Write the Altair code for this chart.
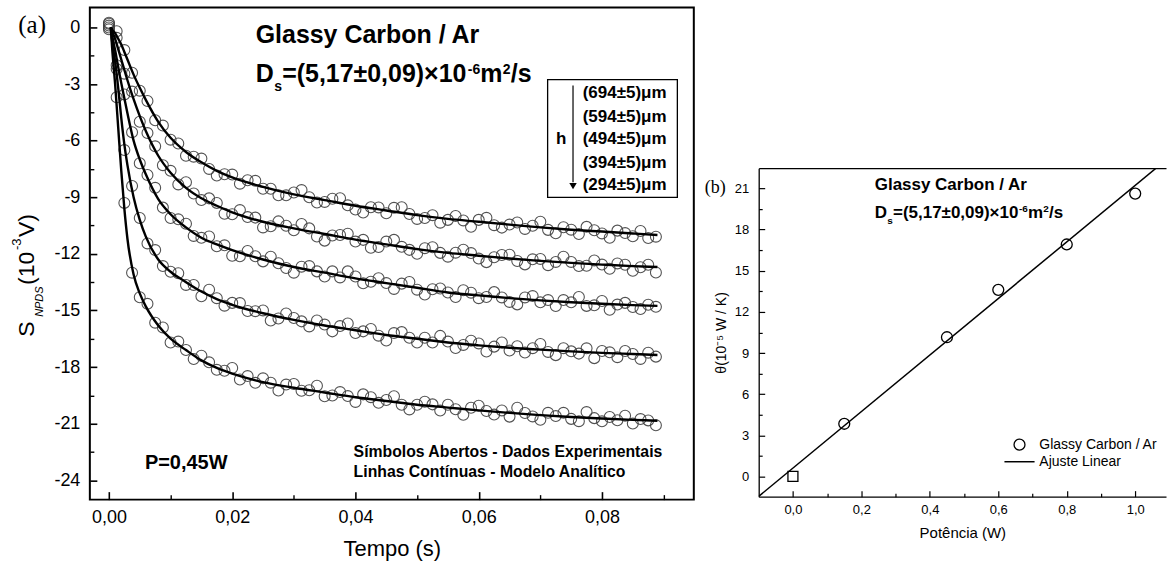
import altair as alt
import pandas as pd

FONT = "Liberation Sans"
SERIF = "Liberation Serif"

# ---------------- panel (a): NPDS signal vs time ----------------
heights = ["694", "594", "494", "394", "294"]
height_labels = ["(694±5)μm", "(594±5)μm", "(494±5)μm", "(394±5)μm", "(294±5)μm"]

t_data = [0.0, 0.00125, 0.0025, 0.00375, 0.005, 0.00625, 0.0075, 0.00875, 0.01, 0.01125,
          0.0125, 0.01375, 0.015, 0.01625, 0.0175, 0.01875, 0.02, 0.02125, 0.0225, 0.02375,
          0.025, 0.02625, 0.0275, 0.02875, 0.03, 0.03125, 0.0325, 0.03375, 0.035, 0.03625,
          0.0375, 0.03875, 0.04, 0.04125, 0.0425, 0.04375, 0.045, 0.04625, 0.0475, 0.04875,
          0.05, 0.05125, 0.0525, 0.05375, 0.055, 0.05625, 0.0575, 0.05875, 0.06, 0.06125,
          0.0625, 0.06375, 0.065, 0.06625, 0.0675, 0.06875, 0.07, 0.07125, 0.0725, 0.07375,
          0.075, 0.07625, 0.0775, 0.07875, 0.08, 0.08125, 0.0825, 0.08375, 0.085, 0.08625,
          0.0875, 0.08875]

s_694 = [0.25, -0.2, -1.2, -2.4, -3.35, -3.9, -4.92, -5.2, -5.95, -6.15, -6.8, -6.85, -6.95, -7.5,
         -7.85, -7.78, -7.8, -8.28, -8.1, -8.13, -8.55, -8.55, -8.9, -8.9, -8.75, -8.62, -9.0, -9.28,
         -9.25, -9.08, -9.05, -9.43, -9.65, -9.81, -9.53, -9.54, -9.85, -9.56, -9.53, -9.89, -10.15,
         -10.1, -9.95, -10.35, -10.2, -9.99, -10.23, -10.57, -10.2, -10.09, -10.48, -10.61, -10.45,
         -10.34, -10.68, -10.51, -10.3, -10.73, -10.91, -10.59, -10.72, -10.95, -10.57, -10.75,
         -10.92, -11.15, -10.77, -10.9, -11.07, -10.79, -11.16, -11.09]
s_594 = [0.2, -0.55, -2.45, -3.4, -5.0, -5.6, -6.3, -7.3, -7.6, -8.32, -8.2, -8.8, -9.15, -9.06,
         -9.3, -9.88, -9.9, -9.68, -10.05, -10.08, -10.6, -10.54, -10.28, -10.51, -10.75, -10.42,
         -10.65, -11.08, -11.3, -11.03, -11.0, -10.93, -11.35, -11.26, -11.68, -11.64, -11.35,
         -11.26, -11.63, -11.79, -12.0, -11.7, -11.65, -11.95, -12.15, -11.94, -11.78, -11.96,
         -12.25, -12.44, -12.18, -12.06, -12.05, -12.38, -12.56, -12.29, -12.27, -12.6, -12.43,
         -12.15, -12.43, -12.65, -12.63, -12.35, -12.57, -12.79, -12.51, -12.58, -12.9, -12.71,
         -12.58, -12.99]
s_494 = [0.1, -2.0, -3.55, -5.55, -7.2, -7.82, -8.5, -9.55, -10.1, -10.17, -10.4, -11.05, -11.15,
         -11.08, -11.6, -11.55, -12.1, -12.13, -11.85, -12.13, -12.4, -12.15, -12.5, -12.75, -13.0,
         -12.68, -12.65, -12.93, -13.2, -12.93, -13.25, -12.93, -13.2, -13.56, -13.48, -13.29,
         -13.55, -13.86, -13.58, -13.49, -13.9, -14.16, -13.88, -13.84, -14.05, -14.29, -13.93,
         -14.06, -14.35, -14.29, -14.03, -14.31, -14.55, -14.68, -14.31, -14.24, -14.57, -14.45,
         -14.77, -14.45, -14.57, -14.29, -14.76, -14.73, -14.5, -14.97, -14.69, -14.6, -14.82,
         -14.93, -14.7, -14.81]
s_394 = [-0.1, -2.2, -6.5, -8.4, -10.1, -11.45, -11.8, -12.65, -12.95, -13.03, -13.65, -13.65,
         -14.25, -13.9, -14.35, -14.75, -14.6, -14.61, -15.03, -15.04, -15.0, -15.54, -15.43,
         -15.16, -15.4, -15.58, -15.85, -15.53, -15.75, -16.11, -15.83, -15.69, -16.2, -16.11,
         -15.98, -16.34, -16.6, -16.2, -16.15, -16.45, -16.7, -16.45, -16.7, -16.35, -16.65, -16.99,
         -16.83, -16.61, -16.75, -17.18, -16.92, -16.7, -17.13, -16.9, -17.23, -17.0, -16.78, -17.2,
         -17.37, -17.0, -17.17, -17.29, -17.01, -17.53, -17.15, -17.22, -17.48, -17.15, -17.31,
         -17.57, -17.24, -17.45]
s_294 = [0.0, -3.7, -9.3, -13.0, -14.3, -14.65, -15.65, -15.9, -16.7, -16.65, -17.1, -17.58, -17.4,
         -17.75, -18.15, -18.2, -18.05, -18.66, -18.48, -18.84, -18.6, -18.83, -19.25, -18.93,
         -18.9, -19.26, -19.23, -18.99, -19.55, -19.51, -19.33, -19.54, -19.85, -19.45, -19.6,
         -19.9, -19.75, -19.55, -20.0, -20.25, -20.0, -19.84, -19.98, -20.31, -20.0, -20.24, -20.53,
         -20.16, -20.05, -20.33, -20.52, -20.3, -20.63, -20.16, -20.44, -20.62, -20.8, -20.43,
         -20.6, -20.43, -20.75, -20.87, -20.39, -20.71, -20.88, -20.65, -20.82, -20.58, -21.0,
         -20.76, -20.83, -21.09]

model_t = [0.0003, 0.0005, 0.001, 0.0015, 0.002, 0.0025, 0.003, 0.004, 0.005, 0.006, 0.008, 0.01,
           0.0125, 0.015, 0.0175, 0.02, 0.025, 0.03, 0.035, 0.04, 0.045, 0.05, 0.055, 0.06, 0.065,
           0.07, 0.075, 0.08, 0.085, 0.089]
m_694 = [0, -0.1, -0.3, -0.6, -0.9, -1.3, -1.7, -2.5, -3.2, -3.85, -5.0, -5.85, -6.6, -7.15, -7.6,
         -7.95, -8.45, -8.85, -9.15, -9.45, -9.7, -9.95, -10.15, -10.3, -10.45, -10.6, -10.72,
         -10.82, -10.92, -11.0]
m_594 = [0, -0.2, -0.6, -1.15, -1.7, -2.25, -2.8, -3.8, -4.7, -5.5, -6.8, -7.7, -8.5, -9.05, -9.45,
         -9.8, -10.3, -10.65, -10.95, -11.25, -11.5, -11.75, -11.95, -12.1, -12.25, -12.37, -12.48,
         -12.57, -12.65, -12.7]
m_494 = [0, -0.4, -1.2, -2.1, -2.95, -3.75, -4.55, -6.0, -7.0, -7.8, -9.1, -9.9, -10.6, -11.15,
         -11.5, -11.8, -12.3, -12.7, -13.0, -13.3, -13.55, -13.8, -14.05, -14.2, -14.35, -14.47,
         -14.57, -14.65, -14.72, -14.76]
m_394 = [0, -0.7, -1.8, -3.2, -4.8, -6.2, -7.3, -9.0, -10.2, -11.1, -12.3, -12.95, -13.5, -14.0,
         -14.4, -14.7, -15.15, -15.5, -15.8, -16.05, -16.3, -16.5, -16.7, -16.85, -16.98, -17.08,
         -17.17, -17.25, -17.31, -17.36]
m_294 = [0, -1.0, -3.0, -5.3, -7.6, -9.6, -11.2, -13.1, -14.1, -14.8, -15.8, -16.5, -17.1, -17.65,
         -18.05, -18.35, -18.8, -19.1, -19.35, -19.6, -19.8, -20.0, -20.15, -20.3, -20.43, -20.55,
         -20.65, -20.73, -20.8, -20.85]

xa_major = [0.0, 0.02, 0.04, 0.06, 0.08]
xa_minor = [0.01, 0.03, 0.05, 0.07, 0.09]
ya_major = [-24, -21, -18, -15, -12, -9, -6, -3, 0]
ya_minor = [-22.5, -19.5, -16.5, -13.5, -10.5, -7.5, -4.5, -1.5]

# ---------------- panel (b): theta vs power ----------------
power = [0.15, 0.45, 0.6, 0.8, 1.0]
theta = [3.85, 10.15, 13.6, 16.9, 20.6]
origin_p = [0.0]
origin_theta = [0.02]
fit_p = [-0.1, 1.09]
fit_theta = [-1.43, 23.05]

xb_major = [0.0, 0.2, 0.4, 0.6, 0.8, 1.0]
xb_minor = [0.1, 0.3, 0.5, 0.7, 0.9]
yb_major = [0, 3, 6, 9, 12, 15, 18, 21]
yb_minor = [1.5, 4.5, 7.5, 10.5, 13.5, 16.5, 19.5]


# ---------------- helpers ----------------
def label_axis(orient, values, expr, size, pad, title=None, title_size=None, title_pad=None,
               domain=False, dw=1.0):
    kw = dict(orient=orient, values=values, labelExpr=expr, labelFont=FONT, labelFontSize=size,
              labelColor="black", labelPadding=pad, labelFlush=False, ticks=False, tickSize=0,
              domain=domain, grid=False, title=title)
    if domain:
        kw.update(domainColor="black", domainWidth=dw)
    if title is not None:
        kw.update(titleFont=FONT, titleFontSize=title_size, titleFontWeight="normal",
                  titleColor="black", titlePadding=title_pad)
    return alt.Axis(**kw)


def tick_axis(orient, values, size, width):
    return alt.Axis(orient=orient, values=values, labels=False, ticks=True, tickSize=size,
                    tickWidth=width, tickColor="black", offset=-size, domain=False, grid=False,
                    title=None)


def note(xv, yv, text, xsc, ysc, **mk):
    xv = xv if isinstance(xv, list) else [xv]
    yv = yv if isinstance(yv, list) else [yv]
    text = text if isinstance(text, list) else [text]
    df = pd.DataFrame({"x": xv, "y": yv, "t": text})
    return alt.Chart(df).mark_text(**mk).encode(
        x=alt.X("x:Q", scale=xsc, axis=None), y=alt.Y("y:Q", scale=ysc, axis=None), text="t:N")


def rich(xv, yv, parts, xsc, ysc, weight="normal", angle=None):
    out = []
    for text, dx, dy, size, style in parts:
        kw = dict(align="left", baseline="alphabetic", font=FONT, fontSize=size, fontWeight=weight,
                  fontStyle=style, dx=dx, dy=dy, color="black")
        if angle is not None:
            kw["angle"] = angle
        out.append(note(xv, yv, text, xsc, ysc, **kw))
    return out


# ---------------- panel (a) ----------------
xs = alt.Scale(domain=[-0.0031, 0.0949], nice=False, zero=False)
ys = alt.Scale(domain=[-25.03, 1.06], nice=False, zero=False)

series = [s_694, s_594, s_494, s_394, s_294]
models = [m_694, m_594, m_494, m_394, m_294]
pts_df = pd.DataFrame([{"t": t, "s": v, "h": h}
                       for h, vals in zip(heights, series) for t, v in zip(t_data, vals)])
mod_df = pd.DataFrame([{"t": t, "s": v, "h": h}
                       for h, vals in zip(heights, models) for t, v in zip(model_t, vals)])

ax_lab_x = label_axis("bottom", xa_major, "replace(format(datum.value, '.2f'), '.', ',')", 18, 9,
                      title="Tempo (s)", title_size=22, title_pad=12)
ax_lab_y = label_axis("left", ya_major, "toString(datum.value)", 18, 10)

pts = alt.Chart(pts_df).mark_point(shape="circle", size=120, filled=False, color="#404040",
                                   strokeWidth=1.1, opacity=0.9).encode(
    x=alt.X("t:Q", scale=xs, axis=ax_lab_x),
    y=alt.Y("s:Q", scale=ys, axis=ax_lab_y),
    detail="h:N")

lines = alt.Chart(mod_df).mark_line(color="black", strokeWidth=2.4, interpolate="monotone").encode(
    x=alt.X("t:Q", scale=xs, axis=tick_axis("bottom", xa_major, 8, 1.6)),
    y=alt.Y("s:Q", scale=ys, axis=tick_axis("left", ya_major, 7, 1.6)),
    detail="h:N")

minor_a = alt.Chart(pd.DataFrame({"t": [0.0], "s": [0.0]})).mark_point(opacity=0).encode(
    x=alt.X("t:Q", scale=xs, axis=tick_axis("bottom", xa_minor, 5, 1.4)),
    y=alt.Y("s:Q", scale=ys, axis=tick_axis("left", ya_minor, 4, 1.4)))

box = alt.Chart(pd.DataFrame({"x": [0.07118], "x2": [0.09223], "y": [-2.767], "y2": [-9.011]})
                ).mark_rect(fill="white", stroke="black", strokeWidth=1.3).encode(
    x=alt.X("x:Q", scale=xs, axis=None), x2="x2:Q",
    y=alt.Y("y:Q", scale=ys, axis=None), y2="y2:Q")

box_txt = note([0.07687] * 5, [-3.49, -4.76, -5.93, -7.2, -8.36], height_labels, xs, ys,
               align="left", baseline="middle", font=FONT, fontSize=17, fontWeight="bold",
               color="black")

arrow = alt.Chart(pd.DataFrame({"x": [0.0753], "y": [-3.07], "y2": [-8.2]})).mark_rule(
    color="black", strokeWidth=1.2).encode(
    x=alt.X("x:Q", scale=xs, axis=None), y=alt.Y("y:Q", scale=ys, axis=None), y2="y2:Q")
arrow_head = alt.Chart(pd.DataFrame({"x": [0.0753], "y": [-8.41]})).mark_point(
    shape="triangle-down", filled=True, size=55, color="black", opacity=1).encode(
    x=alt.X("x:Q", scale=xs, axis=None), y=alt.Y("y:Q", scale=ys, axis=None))
h_txt = note(0.0734, -5.93, "h", xs, ys, align="center", baseline="middle", font=FONT,
             fontSize=17, fontWeight="bold", color="black")

title_a = note(0.02381, -0.847, "Glassy Carbon / Ar", xs, ys, align="left", baseline="alphabetic",
               font=FONT, fontSize=25, fontWeight="bold", color="black")
ds_a = rich(0.02381, -2.91,
            [("D", 0, 0, 25, "normal"), ("s", 18.5, 9, 14, "normal"),
             ("=(5,17±0,09)×10", 26.5, 0, 25, "normal"), ("-6", 212.5, -8, 14, "normal"),
             ("m", 225, 0, 25, "normal"), ("2", 247.5, -8, 14, "normal"),
             ("/s", 255.5, 0, 25, "normal")], xs, ys, weight="bold")

ytitle_a = rich(-0.012146, -16.40,
                [("S", 0, 0, 23, "normal"), ("NPDS", 20, 9, 11, "italic"),
                 ("(10", 52, 0, 23, "normal"), ("-3", 87, -13.5, 13, "normal"),
                 ("V)", 100, 0, 23, "normal")], xs, ys, angle=270)

tag_a = note(-0.01247, 0.106, "(a)", xs, ys, align="center", baseline="middle", font=SERIF,
             fontSize=25, color="black")
p_txt = note(0.00583, -23.07, "P=0,45W", xs, ys, align="left", baseline="middle", font=FONT,
             fontSize=20, fontWeight="bold", color="black")
foot = note([0.0397, 0.0397], [-22.49, -23.55],
            ["Símbolos Abertos - Dados Experimentais", "Linhas Contínuas - Modelo Analítico"],
            xs, ys, align="left", baseline="middle", font=FONT, fontSize=15.8, fontWeight="bold",
            color="black")

left = alt.layer(pts, lines, minor_a, box, box_txt, arrow, arrow_head, h_txt, title_a, *ds_a,
                 *ytitle_a, tag_a, p_txt, foot).resolve_axis(
    x="independent", y="independent").properties(
    width=605, height=493, view=alt.ViewBackground(stroke="black", strokeWidth=2))

# ---------------- panel (b) ----------------
xb = alt.Scale(domain=[-0.1, 1.09], nice=False, zero=False)
yb = alt.Scale(domain=[-1.45, 22.45], nice=False, zero=False)

axb_x = label_axis("bottom", xb_major, "replace(format(datum.value, '.1f'), '.', ',')", 13, 7,
                   title="Potência (W)", title_size=15, title_pad=9, domain=True, dw=1.3)
axb_y = label_axis("left", yb_major, "toString(datum.value)", 13, 10,
                   title="θ(10⁻⁵ W / K)", title_size=14, title_pad=6, domain=True, dw=1.3)

circ_b = alt.Chart(pd.DataFrame({"p": power, "th": theta})).mark_point(
    shape="circle", size=120, filled=False, color="black", strokeWidth=1.3, opacity=1).encode(
    x=alt.X("p:Q", scale=xb, axis=axb_x), y=alt.Y("th:Q", scale=yb, axis=axb_y))

fit_b = alt.Chart(pd.DataFrame({"p": fit_p, "th": fit_theta})).mark_line(
    color="black", strokeWidth=1.5, clip=True).encode(
    x=alt.X("p:Q", scale=xb, axis=tick_axis("bottom", xb_major, 6, 1.2)),
    y=alt.Y("th:Q", scale=yb, axis=tick_axis("left", yb_major, 6, 1.2)))

sq_b = alt.Chart(pd.DataFrame({"p": origin_p, "th": origin_theta})).mark_point(
    shape="square", size=100, filled=False, color="black", strokeWidth=1.3, opacity=1).encode(
    x=alt.X("p:Q", scale=xb, axis=tick_axis("bottom", xb_minor, 3.5, 1.2)),
    y=alt.Y("th:Q", scale=yb, axis=tick_axis("left", yb_minor, 3.5, 1.2)))

top_axis = alt.Axis(orient="top", labels=False, ticks=False, domain=True, domainColor="black",
                    domainWidth=1.3, grid=False, title=None)
leg_circ = alt.Chart(pd.DataFrame({"p": [0.662], "th": [2.33]})).mark_point(
    shape="circle", size=120, filled=False, color="black", strokeWidth=1.3, opacity=1).encode(
    x=alt.X("p:Q", scale=xb, axis=top_axis), y=alt.Y("th:Q", scale=yb, axis=None))
leg_line = alt.Chart(pd.DataFrame({"p": [0.618], "p2": [0.706], "th": [1.09]})).mark_rule(
    color="black", strokeWidth=1.5).encode(
    x=alt.X("p:Q", scale=xb, axis=None), x2="p2:Q", y=alt.Y("th:Q", scale=yb, axis=None))
leg_txt = note([0.72, 0.72], [2.33, 1.09], ["Glassy Carbon / Ar", "Ajuste Linear"], xb, yb,
               align="left", baseline="middle", font=FONT, fontSize=14, color="black")

title_b = note(0.239, 20.86, "Glassy Carbon / Ar", xb, yb, align="left", baseline="alphabetic",
               font=FONT, fontSize=17, fontWeight="bold", color="black")
ds_b = rich(0.239, 18.82,
            [("D", 0, 0, 17, "normal"), ("s", 12.5, 6, 10, "normal"),
             ("=(5,17±0,09)×10", 18.3, 0, 17, "normal"), ("-6", 144.5, -6, 10, "normal"),
             ("m", 153.5, 0, 17, "normal"), ("2", 168.8, -6, 10, "normal"),
             ("/s", 174.5, 0, 17, "normal")], xb, yb, weight="bold")
tag_b = note(-0.227, 21.0, "(b)", xb, yb, align="center", baseline="middle", font=SERIF,
             fontSize=18, color="black")

right = alt.layer(fit_b, circ_b, sq_b, leg_circ, leg_line, leg_txt, title_b, *ds_b, tag_b
                  ).resolve_axis(x="independent", y="independent").properties(
    width=408, height=329, view=alt.ViewBackground(stroke="transparent"))

spacer = alt.Chart(pd.DataFrame({"v": [0]})).mark_point(opacity=0).encode(
    x=alt.value(0), y=alt.value(0)).properties(
    width=408, height=159, view=alt.ViewBackground(stroke="transparent"))

chart = alt.hconcat(left, alt.vconcat(spacer, right, spacing=0), spacing=8).properties(
    padding={"left": 9, "top": 3, "right": 0, "bottom": 0},
    background="white",
).configure(font=FONT).configure_view(stroke="black", strokeWidth=2)

chart.save("out.html", embed_options={"renderer": "svg", "actions": False})
